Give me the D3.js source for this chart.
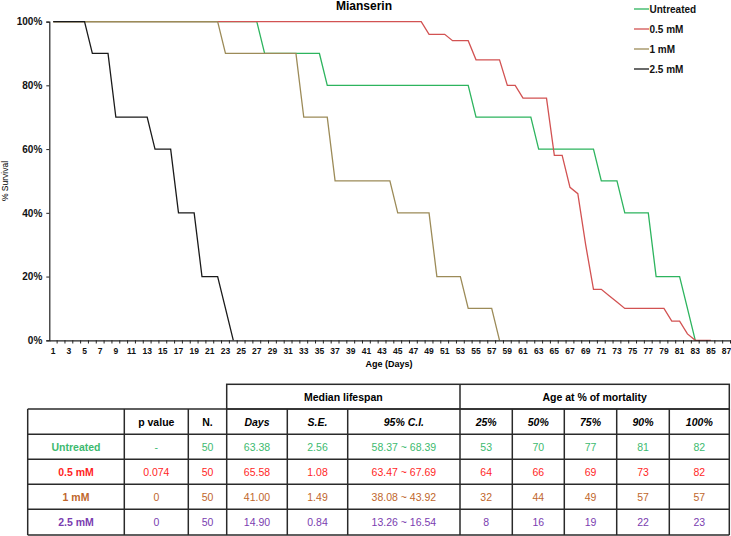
<!DOCTYPE html>
<html><head><meta charset="utf-8">
<script src="https://cdn.jsdelivr.net/npm/d3@7"></script>
<style>body{margin:0;background:#fff;} svg{display:block;font-family:"Liberation Sans",Arial,sans-serif;}</style>
</head><body>
<svg id="c" width="731" height="536"></svg>
<script>
// ---- data ----
const days = d3.range(1, 88);
const tickLabels = d3.range(1, 88, 2);
const yTicks = [0, 20, 40, 60, 80, 100];
const seriesNames = ["Untreated", "0.5 mM", "1 mM", "2.5 mM"];
const lineColors = ["#2db45e", "#d25252", "#9c8b58", "#1a1a1a"];
// survival (%) per day, starting at day 1
const untreated = [100,100,100,100,100,100,100,100,100,100,100,100,100,100,100,100,100,100,100,100,100,100,100,100,100,100,100,
  90,90,90,90,90,90,90,90,80,80,80,80,80,80,80,80,80,80,80,80,80,80,80,80,80,80,80,70,70,70,70,70,70,70,70,60,60,60,60,60,60,60,60,
  50,50,50,40,40,40,40,20,20,20,20,10,0];
const mM05 = [100,100,100,100,100,100,100,100,100,100,100,100,100,100,100,100,100,100,100,100,100,100,100,100,100,100,100,100,100,100,
  100,100,100,100,100,100,100,100,100,100,100,100,100,100,100,100,100,100,96,96,96,94,94,94,88,88,88,88,80,80,76,76,76,76,58,58,48,46,30,16,16,
  14,12,10,10,10,10,10,10,6,6,2,0,0,0];
const mM1 = [100,100,100,100,100,100,100,100,100,100,100,100,100,100,100,100,100,100,100,100,100,100,90,90,90,90,90,90,90,90,90,90,70,70,70,70,
  50,50,50,50,50,50,50,50,40,40,40,40,40,20,20,20,20,10,10,10,10,0];
const mM25 = [100,100,100,100,100,90,90,90,70,70,70,70,70,60,60,60,40,40,40,20,20,20,10,0];
const seriesValues = [untreated, mM05, mM1, mM25];

// table data
const tableRowNames = ["Untreated", "0.5 mM", "1 mM", "2.5 mM"];
const tableColors = ["#3dba6f", "#ff1f1f", "#c0662c", "#7a3db0"];
const pValues = ["-", "0.074", "0", "0"];
const nValues = ["50", "50", "50", "50"];
const medianDays = ["63.38", "65.58", "41.00", "14.90"];
const medianSE = ["2.56", "1.08", "1.49", "0.84"];
const medianCI = ["58.37 ~ 68.39", "63.47 ~ 67.69", "38.08 ~ 43.92", "13.26 ~ 16.54"];
const mort25 = ["53", "64", "32", "8"];
const mort50 = ["70", "66", "44", "16"];
const mort75 = ["77", "69", "49", "19"];
const mort90 = ["81", "73", "57", "22"];
const mort100 = ["82", "82", "57", "23"];
const headerCols = ["", "p value", "N.", "Days", "S.E.", "95% C.I.", "25%", "50%", "75%", "90%", "100%"];
const groupHeaders = ["Median lifespan", "Age at % of mortality"];

// ---- chart ----
const svg = d3.select("#c");
const x = d3.scaleBand().domain(days).range([49.3, 730.5]);
const xc = d => x(d) + x.bandwidth() / 2;
const y = d3.scaleLinear().domain([0, 100]).range([340.3, 21.6]);

// title
svg.append("text").attr("x", 364).attr("y", 10).attr("text-anchor", "middle")
  .attr("font-size", 12).attr("font-weight", "bold").text("Mianserin");

// lines
const line = d3.line().x((v, i) => xc(i + 1)).y(v => y(v));
seriesValues.forEach((vals, k) => {
  svg.append("path").attr("d", line(vals)).attr("fill", "none")
    .attr("stroke", lineColors[k]).attr("stroke-width", 1.3);
});

// y axis
const yAxis = d3.axisLeft(y).tickValues(yTicks).tickFormat(d => d + "%").tickSize(3).tickPadding(4);
const gy = svg.append("g").attr("transform", "translate(49.3,0)").call(yAxis);
gy.select(".domain").attr("stroke", "#222").attr("stroke-width", 1.2);
gy.selectAll(".tick line").attr("stroke", "#222");
gy.selectAll("text").attr("font-size", 10).attr("font-weight", "bold").attr("fill", "#111")
  .attr("font-family", "Liberation Sans, Arial, sans-serif");

// x axis
const xAxis = d3.axisBottom(x).tickValues(tickLabels).tickSize(0).tickPadding(8);
const gx = svg.append("g").attr("transform", "translate(0,340.3)").call(xAxis);
gx.select(".domain").attr("stroke", "#222").attr("stroke-width", 1.2);
gx.selectAll("text").attr("font-size", 8.5).attr("font-weight", "bold").attr("fill", "#111")
  .attr("font-family", "Liberation Sans, Arial, sans-serif");
// tick marks at category boundaries
svg.append("g").selectAll("line").data(days.slice(1)).join("line")
  .attr("x1", d => x(d)).attr("x2", d => x(d)).attr("y1", 340.3).attr("y2", 343.5)
  .attr("stroke", "#222").attr("stroke-width", 1);
svg.append("line").attr("x1", 730.5).attr("x2", 730.5).attr("y1", 340.3).attr("y2", 343.5).attr("stroke", "#222");

svg.append("text").attr("x", 389).attr("y", 367).attr("text-anchor", "middle")
  .attr("font-size", 9).attr("font-weight", "bold").text("Age (Days)");
svg.append("text").attr("transform", "translate(8,181) rotate(-90)").attr("text-anchor", "middle")
  .attr("font-size", 8.5).text("% Survival");

// legend
const lg = svg.append("g");
seriesNames.forEach((n, i) => {
  const yy = 9 + i * 20;
  lg.append("line").attr("x1", 634).attr("x2", 649).attr("y1", yy).attr("y2", yy)
    .attr("stroke", lineColors[i]).attr("stroke-width", 1.3);
  lg.append("text").attr("x", 649.5).attr("y", yy + 3.5).attr("font-size", 10)
    .attr("font-weight", "bold").attr("fill", "#111").text(n);
});

// ---- table ----
const colX = [27.7, 124.3, 188.3, 226.7, 287.3, 347.7, 460, 512.3, 564.3, 616.7, 669.3, 729.3];
const rowY = [409, 434.3, 459.3, 484.3, 509.3, 535];
const topY = 384.3;
const t = svg.append("g");
const stroke = "#2a2a2a";
// group header box
t.append("rect").attr("x", colX[3]).attr("y", topY).attr("width", colX[11] - colX[3]).attr("height", rowY[0] - topY)
  .attr("fill", "none").attr("stroke", stroke).attr("stroke-width", 1.5);
t.append("line").attr("x1", colX[6]).attr("x2", colX[6]).attr("y1", topY).attr("y2", rowY[0]).attr("stroke", stroke).attr("stroke-width", 1.5);
t.append("text").attr("x", (colX[3] + colX[6]) / 2).attr("y", topY + 16.5).attr("text-anchor", "middle")
  .attr("font-size", 10.5).attr("font-weight", "bold").text(groupHeaders[0]);
t.append("text").attr("x", (colX[6] + colX[11]) / 2).attr("y", topY + 16.5).attr("text-anchor", "middle")
  .attr("font-size", 10.5).attr("font-weight", "bold").text(groupHeaders[1]);
// grid
rowY.forEach(yy => t.append("line").attr("x1", colX[0]).attr("x2", colX[11]).attr("y1", yy).attr("y2", yy)
  .attr("stroke", stroke).attr("stroke-width", 1.5));
colX.forEach(xx => t.append("line").attr("x1", xx).attr("x2", xx).attr("y1", rowY[0]).attr("y2", rowY[5])
  .attr("stroke", stroke).attr("stroke-width", 1.5));
// header row
headerCols.forEach((h, j) => {
  t.append("text").attr("x", (colX[j] + colX[j + 1]) / 2).attr("y", rowY[0] + 16.5).attr("text-anchor", "middle")
    .attr("font-size", 10.5).attr("font-weight", "bold").attr("font-style", j >= 3 ? "italic" : "normal").text(h);
});
// data rows
const cols = [tableRowNames, pValues, nValues, medianDays, medianSE, medianCI, mort25, mort50, mort75, mort90, mort100];
tableRowNames.forEach((r, i) => {
  cols.forEach((col, j) => {
    t.append("text").attr("x", (colX[j] + colX[j + 1]) / 2).attr("y", rowY[i + 1] + 16.3).attr("text-anchor", "middle")
      .attr("font-size", 10.5).attr("font-weight", j === 0 ? "bold" : "normal")
      .attr("fill", tableColors[i]).text(col[i]);
  });
});
</script>
</body></html>
